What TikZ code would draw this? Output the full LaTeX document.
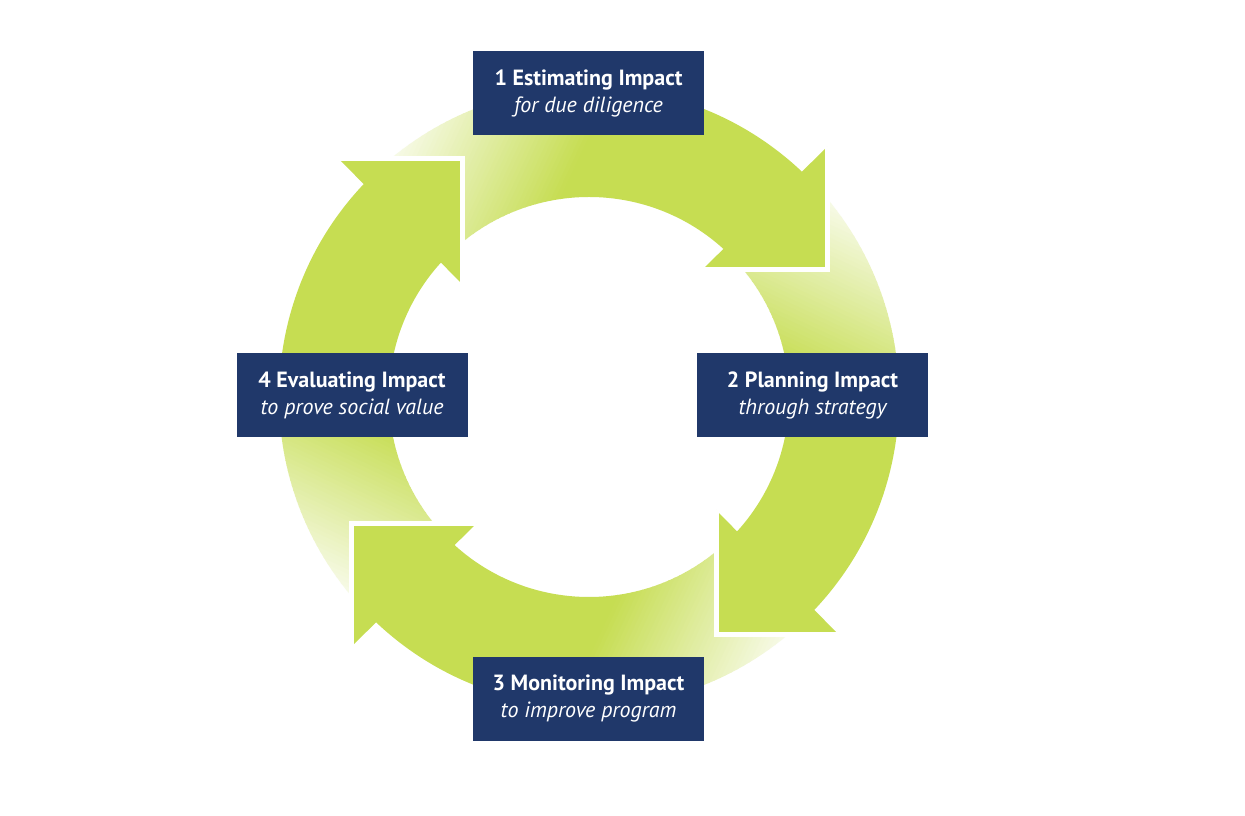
\documentclass[tikz,border=0pt]{standalone}
\usepackage{fontspec}
\setmainfont{PT Sans}
\definecolor{agreen}{RGB}{198,221,82}
\definecolor{navy}{RGB}{32,56,106}
\tikzset{
  stagebox/.style={fill=navy, text=white, minimum width=231pt, minimum height=84pt,
    inner sep=0pt, align=center, font=\fontsize{22}{27}\selectfont},
  headedge/.style={white, line width=5pt}
}
\begin{document}
\begin{tikzpicture}[x=1pt,y=1pt]
\useasboundingbox (0,0) rectangle (1245,816);
\fill[white] (0,0) rectangle (1245,816);
\coordinate (C) at (589,419);
% arrow bodies with fading tails
\foreach \rot in {0,-90,-180,-270}{
  \begin{scope}[shift={(C)}, rotate=\rot]
    \begin{scope}
      \clip (45:200) arc[start angle=45,end angle=135,radius=200]
        -- (135:310) arc[start angle=135,end angle=45,radius=310] -- cycle;
      \begin{scope}[rotate=-25]
        \foreach \i in {0,...,44}{
          \pgfmathsetmacro{\pct}{8+(\i+0.5)/45*92}
          \fill[agreen!\pct!white] ({-290+4*\i},-400) rectangle ({-285.4+4*\i},400);
        }
        \fill[agreen] (-110,-400) rectangle (400,400);
      \end{scope}
    \end{scope}
  \end{scope}
}
% arrow heads
\foreach \rot in {0,-90,-180,-270}{
  \begin{scope}[shift={(C)}, rotate=\rot]
    \fill[agreen] (238,250) -- (238,127) -- (113,127) -- cycle;
    \draw[headedge] (238,250) -- (238,127) -- (113,127);
  \end{scope}
}
% stage boxes
\node[stagebox] (s1) at (588.5,722.5) {{\bfseries 1 Estimating Impact}\\{\itshape for due diligence}};
\node[stagebox] (s2) at (812.5,420.5) {{\bfseries 2 Planning Impact}\\{\itshape through strategy}};
\node[stagebox] (s3) at (588.5,117) {{\bfseries 3 Monitoring Impact}\\{\itshape to improve program}};
\node[stagebox] (s4) at (352,420.5) {{\bfseries 4 Evaluating Impact}\\{\itshape to prove social value}};
\end{tikzpicture}
\end{document}
